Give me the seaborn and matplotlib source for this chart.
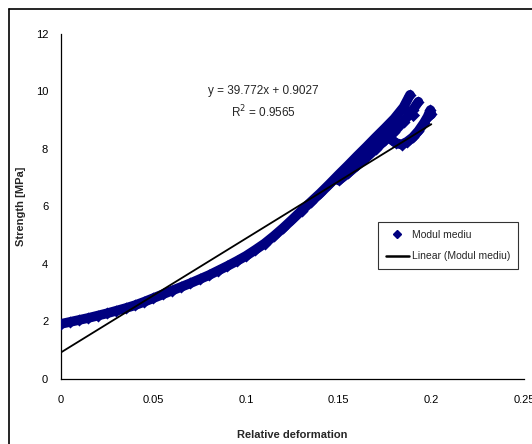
import matplotlib
matplotlib.use("Agg")
import matplotlib.pyplot as plt
from matplotlib.lines import Line2D
import seaborn as sns
import pandas as pd

# ---- data ----
xa = [0, 0.005, 0.01, 0.015, 0.02, 0.025, 0.03, 0.035, 0.04, 0.045, 0.05, 0.055,
      0.06, 0.065, 0.07, 0.075, 0.08, 0.085, 0.09, 0.095, 0.1, 0.105, 0.11, 0.115,
      0.12, 0.125, 0.13, 0.135, 0.14, 0.145, 0.15, 0.155, 0.16, 0.165, 0.17, 0.175,
      0.18, 0.185, 0.1885]
ya = [1.90, 1.97, 2.04, 2.11, 2.19, 2.27, 2.36, 2.45, 2.55, 2.67, 2.80, 2.93,
      3.06, 3.19, 3.32, 3.46, 3.60, 3.76, 3.92, 4.09, 4.27, 4.48, 4.70, 4.96,
      5.24, 5.54, 5.85, 6.15, 6.45, 6.77, 7.10, 7.42, 7.75, 8.07, 8.40, 8.72,
      9.05, 9.45, 9.88]

xb = [0.15, 0.155, 0.16, 0.165, 0.17, 0.175, 0.18, 0.185, 0.19, 0.193]
yb = [6.90, 7.15, 7.42, 7.70, 8.00, 8.30, 8.60, 8.95, 9.35, 9.64]

xc = [0.1786, 0.181, 0.184, 0.187, 0.19, 0.193, 0.196, 0.198, 0.1995, 0.2]
yc = [8.31, 8.20, 8.15, 8.25, 8.40, 8.62, 8.90, 9.12, 9.35, 9.20]

x_dot = [0.190]
y_dot = [9.18]

slope = 39.772
intercept = 0.9027
r2 = 0.9565
trend_x = [0, 0.2]

x_ticks = [0, 0.05, 0.1, 0.15, 0.2, 0.25]
x_tick_labels = ["0", "0.05", "0.1", "0.15", "0.2", "0.25"]
y_ticks = [0, 2, 4, 6, 8, 10, 12]

series_name = "Modul mediu"
trend_name = "Linear (Modul mediu)"

# ---- plotting ----
sns.set_theme(style="white")
plt.rcParams['font.family'] = ['Liberation Sans', 'DejaVu Sans']

navy = "#000080"
fig = plt.figure(figsize=(5.32, 4.44), dpi=100)
ax = fig.add_axes([60.7 / 532, 1 - 378.5 / 444, (524 - 60.7) / 532, (378.5 - 34) / 444])

branches = [(xa, ya), (xb, yb), (xc, yc)]
for bx, by in branches:
    df = pd.DataFrame({"x": bx, "y": by})
    sns.lineplot(data=df, x="x", y="y", sort=False, estimator=None, ax=ax,
                 color=navy, linewidth=7, solid_capstyle="round",
                 solid_joinstyle="round", zorder=2)
    sns.scatterplot(data=df, x="x", y="y", ax=ax, color=navy, marker="D",
                    s=38, linewidth=0, zorder=3)
sns.scatterplot(x=x_dot, y=y_dot, ax=ax, color=navy, marker="D", s=45,
                linewidth=0, zorder=3)

trend_y = [slope * v + intercept for v in trend_x]
sns.lineplot(x=trend_x, y=trend_y, ax=ax, color="black", linewidth=1.3, zorder=4)

ax.set_xlim(0, 0.25)
ax.set_ylim(0, 12)
ax.set_xticks(x_ticks)
ax.set_xticklabels(x_tick_labels)
ax.set_yticks(y_ticks)
ax.tick_params(axis="both", direction="out", length=3, width=0.8, colors="black",
               labelsize=8, pad=6)
ax.tick_params(axis="x", pad=9)
for s in ["top", "right"]:
    ax.spines[s].set_visible(False)
for s in ["left", "bottom"]:
    ax.spines[s].set_color("black")
    ax.spines[s].set_linewidth(0.9)

ax.set_xlabel("Relative deformation", fontsize=8, fontweight="bold", labelpad=18)
ax.set_ylabel("Strength [MPa]", fontsize=8, fontweight="bold", labelpad=7)

ax.text(0.1093, 10.0, f"y = {slope}x + {intercept}", fontsize=8.5, ha="center",
        va="center")
ax.text(0.1093, 9.28, f"R$^2$ = {r2}", fontsize=8.5, ha="center", va="center")

handles = [
    Line2D([], [], marker="D", color=navy, linestyle="", markersize=4.5),
    Line2D([], [], color="black", linewidth=1.8),
]
leg = ax.legend(handles, [series_name, trend_name], loc="upper left",
                bbox_to_anchor=((378 - 60.7) / 463.3, (378.5 - 222) / 344.5),
                fontsize=7.5, frameon=True, fancybox=False, shadow=False,
                edgecolor="black", borderpad=0.75, handlelength=2.2,
                handletextpad=0.3, labelspacing=1.1, borderaxespad=0)
leg.get_frame().set_linewidth(0.8)

# outer chart-area frame (top and left edges visible in the reference)
fig.add_artist(Line2D([9 / 532, 1.0], [1 - 9 / 444, 1 - 9 / 444],
                      transform=fig.transFigure, color="black", linewidth=1.2))
fig.add_artist(Line2D([9 / 532, 9 / 532], [0, 1 - 9 / 444],
                      transform=fig.transFigure, color="black", linewidth=1.2))

fig.savefig("out.png", dpi=100)
